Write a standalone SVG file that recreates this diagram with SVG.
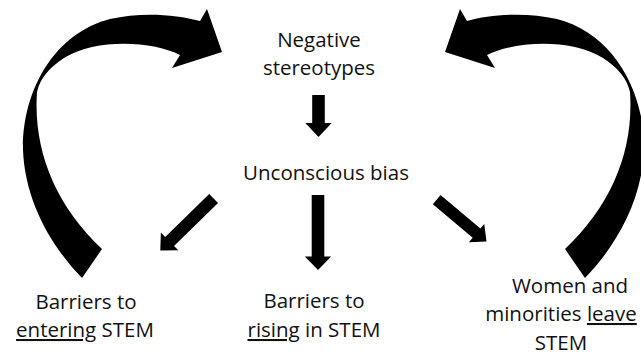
<svg xmlns="http://www.w3.org/2000/svg" width="641" height="360" viewBox="0 0 641 360">
<style>
.t{font-family:"Open Sans","Liberation Sans",sans-serif;font-size:20.5px;fill:#111;text-anchor:middle}
.u{text-decoration:underline}
.a{fill:#000}
</style>
<defs>
<path id="curve" d="M82,278 C50,245 25,200 23,150 C22,90 55,33 110,19 C140,12 175,14 200,21 L207,9 L222,52 L172,68 L180,55 C155,42 98,37 64,58 C50,67 40,78 37,92 C33,150 55,205 102,249 Z"/>
</defs>
<rect width="641" height="360" fill="#fff"/>
<g id="connectors">
<use href="#curve" class="a"/>
<use href="#curve" class="a" transform="translate(667,0) scale(-1,1)"/>
<polygon class="a" transform="translate(318.5,137) rotate(90)" points="0,0 -14,-13.2 -14,-6.3 -42,-6.3 -42,6.3 -14,6.3 -14,13.2"/>
<polygon class="a" transform="translate(318,270) rotate(90)" points="0,0 -13.5,-13.2 -13.5,-6.3 -75,-6.3 -75,6.3 -13.5,6.3 -13.5,13.2"/>
<polygon class="a" transform="translate(160.3,250.5) rotate(135.7)" points="0,0 -13,-12.5 -13,-6.3 -74.5,-6.3 -74.5,6.3 -13,6.3 -13,12.5"/>
<polygon class="a" transform="translate(486.5,241.5) rotate(40)" points="0,0 -13,-12 -13,-6 -65,-6 -65,6 -13,6 -13,12"/>
</g>
<g id="n1"><text class="t" x="319" y="47">Negative</text><text class="t" x="319" y="75">stereotypes</text></g>
<g id="n2"><text class="t" x="326" y="180">Unconscious bias</text></g>
<g id="n3"><text class="t" x="86" y="309">Barriers to</text><text class="t" x="85" y="337"><tspan class="u">entering</tspan> STEM</text></g>
<g id="n4"><text class="t" x="314" y="308">Barriers to</text><text class="t" x="314" y="337"><tspan class="u">rising</tspan> in STEM</text></g>
<g id="n5"><text class="t" x="570" y="293">Women and</text><text class="t" x="561" y="321">minorities <tspan class="u">leave</tspan></text><text class="t" x="561" y="350">STEM</text></g>
</svg>
